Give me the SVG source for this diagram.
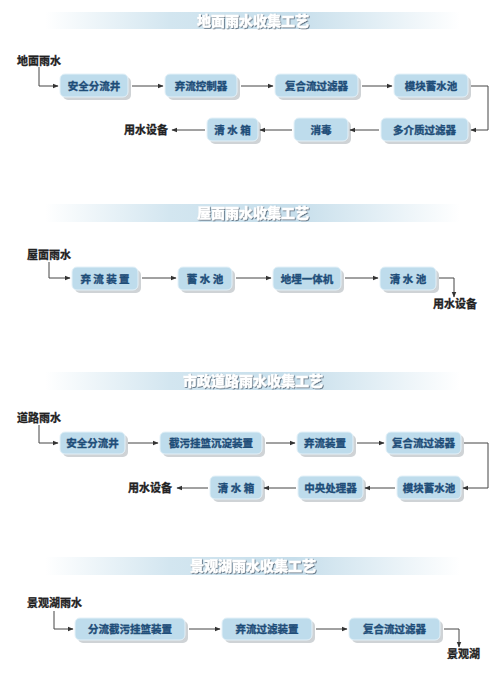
<svg xmlns="http://www.w3.org/2000/svg" width="500" height="675" viewBox="0 0 500 675">
<defs>
<linearGradient id="band" x1="0" y1="0" x2="1" y2="0">
<stop offset="0" stop-color="#ffffff"/>
<stop offset="0.3" stop-color="#d3e6f0"/>
<stop offset="0.6" stop-color="#c6deeb"/>
<stop offset="1" stop-color="#ffffff"/>
</linearGradient>
<filter id="ts" x="-10%" y="-30%" width="120%" height="160%">
<feDropShadow dx="0.8" dy="0.8" stdDeviation="0.5" flood-color="#3f4f60" flood-opacity="0.85"/>
</filter>
<marker id="ah" viewBox="0 0 10 10" refX="9" refY="5" markerWidth="6" markerHeight="6" orient="auto" markerUnits="userSpaceOnUse">
<path d="M0,1 L10,5 L0,9 Z" fill="#333"/>
</marker>
</defs>
<style>
.band{fill:url(#band)}
.title{font-family:"Noto Sans CJK SC","Liberation Sans",sans-serif;font-weight:900;font-size:14px;fill:#ffffff;stroke:#ffffff;stroke-width:0.3;text-anchor:middle;filter:url(#ts)}
.lbl{font-family:"Noto Sans CJK SC","Liberation Sans",sans-serif;font-weight:bold;font-size:11px;fill:#222;stroke:#222;stroke-width:0.3}
.sh{fill:#cfd3d6}
.box{fill:#bedcec;stroke:#e4f1f8;stroke-width:1}
.bt{font-family:"Noto Sans CJK SC","Liberation Sans",sans-serif;font-weight:bold;font-size:10.5px;fill:#1e4d78;stroke:#1e4d78;stroke-width:0.35;text-anchor:middle}
.ln{fill:none;stroke:#444;stroke-width:1}
</style>
<rect width="500" height="675" fill="#ffffff"/>

<!-- Section 1 -->
<g id="title1"><rect class="band" x="45" y="12" width="415" height="17"/><text class="title" x="253" y="26">地面雨水收集工艺</text></g>
<g id="src1"><text class="lbl" x="17" y="65">地面雨水</text></g>
<g id="n1a"><rect class="sh" x="63" y="77" width="68" height="23" rx="5"/><rect class="box" x="60" y="74" width="68" height="23" rx="5"/><text class="bt" x="94" y="89.5">安全分流井</text></g>
<g id="n1b"><rect class="sh" x="168" y="77" width="72" height="23" rx="5"/><rect class="box" x="165" y="74" width="72" height="23" rx="5"/><text class="bt" x="201" y="89.5">弃流控制器</text></g>
<g id="n1c"><rect class="sh" x="278" y="77" width="83" height="23" rx="5"/><rect class="box" x="275" y="74" width="83" height="23" rx="5"/><text class="bt" x="316.5" y="89.5">复合流过滤器</text></g>
<g id="n1d"><rect class="sh" x="397" y="77" width="74" height="23" rx="5"/><rect class="box" x="394" y="74" width="74" height="23" rx="5"/><text class="bt" x="431" y="89.5">模块蓄水池</text></g>
<g id="n1e"><rect class="sh" x="384" y="121" width="87" height="23" rx="5"/><rect class="box" x="381" y="118" width="87" height="23" rx="5"/><text class="bt" x="424.5" y="133.5">多介质过滤器</text></g>
<g id="n1f"><rect class="sh" x="297" y="121" width="54" height="23" rx="5"/><rect class="box" x="294" y="118" width="54" height="23" rx="5"/><text class="bt" x="321" y="133.5">消毒</text></g>
<g id="n1g"><rect class="sh" x="210" y="121" width="51" height="23" rx="5"/><rect class="box" x="207" y="118" width="51" height="23" rx="5"/><text class="bt" x="232.5" y="133.5">清 水 箱</text></g>
<g id="dst1"><text class="lbl" x="124" y="134">用水设备</text></g>

<!-- Section 2 -->
<g id="title2"><rect class="band" x="45" y="204" width="415" height="18"/><text class="title" x="253" y="218">屋面雨水收集工艺</text></g>
<g id="src2"><text class="lbl" x="27" y="259">屋面雨水</text></g>
<g id="n2a"><rect class="sh" x="75" y="270" width="66" height="23" rx="5"/><rect class="box" x="72" y="267" width="66" height="23" rx="5"/><text class="bt" x="105" y="282.5">弃 流 装 置</text></g>
<g id="n2b"><rect class="sh" x="181" y="270" width="54" height="23" rx="5"/><rect class="box" x="178" y="267" width="54" height="23" rx="5"/><text class="bt" x="205" y="282.5">蓄 水 池</text></g>
<g id="n2c"><rect class="sh" x="276" y="270" width="68" height="23" rx="5"/><rect class="box" x="273" y="267" width="68" height="23" rx="5"/><text class="bt" x="307" y="282.5">地埋一体机</text></g>
<g id="n2d"><rect class="sh" x="383" y="270" width="56" height="23" rx="5"/><rect class="box" x="380" y="267" width="56" height="23" rx="5"/><text class="bt" x="408" y="282.5">清 水 池</text></g>
<g id="dst2"><text class="lbl" x="433" y="308">用水设备</text></g>

<!-- Section 3 -->
<g id="title3"><rect class="band" x="45" y="372" width="415" height="18"/><text class="title" x="253" y="386">市政道路雨水收集工艺</text></g>
<g id="src3"><text class="lbl" x="17" y="422">道路雨水</text></g>
<g id="n3a"><rect class="sh" x="63" y="435" width="65" height="22" rx="5"/><rect class="box" x="60" y="432" width="65" height="22" rx="5"/><text class="bt" x="92.5" y="447">安全分流井</text></g>
<g id="n3b"><rect class="sh" x="163" y="435" width="102" height="22" rx="5"/><rect class="box" x="160" y="432" width="102" height="22" rx="5"/><text class="bt" x="211" y="447">截污挂篮沉淀装置</text></g>
<g id="n3c"><rect class="sh" x="300" y="435" width="56" height="22" rx="5"/><rect class="box" x="297" y="432" width="56" height="22" rx="5"/><text class="bt" x="325" y="447">弃流装置</text></g>
<g id="n3d"><rect class="sh" x="389" y="435" width="75" height="22" rx="5"/><rect class="box" x="386" y="432" width="75" height="22" rx="5"/><text class="bt" x="423.5" y="447">复合流过滤器</text></g>
<g id="n3e"><rect class="sh" x="400" y="479" width="64" height="23" rx="5"/><rect class="box" x="397" y="476" width="64" height="23" rx="5"/><text class="bt" x="429" y="491.5">模块蓄水池</text></g>
<g id="n3f"><rect class="sh" x="301" y="479" width="65" height="23" rx="5"/><rect class="box" x="298" y="476" width="65" height="23" rx="5"/><text class="bt" x="330.5" y="491.5">中央处理器</text></g>
<g id="n3g"><rect class="sh" x="213" y="479" width="52" height="23" rx="5"/><rect class="box" x="210" y="476" width="52" height="23" rx="5"/><text class="bt" x="236" y="491.5">清 水 箱</text></g>
<g id="dst3"><text class="lbl" x="128" y="492">用水设备</text></g>

<!-- Section 4 -->
<g id="title4"><rect class="band" x="45" y="557" width="415" height="18"/><text class="title" x="253" y="571">景观湖雨水收集工艺</text></g>
<g id="src4"><text class="lbl" x="27" y="607">景观湖雨水</text></g>
<g id="n4a"><rect class="sh" x="78" y="621" width="110" height="22" rx="5"/><rect class="box" x="75" y="618" width="110" height="22" rx="5"/><text class="bt" x="130" y="633">分流截污挂篮装置</text></g>
<g id="n4b"><rect class="sh" x="225" y="621" width="90" height="22" rx="5"/><rect class="box" x="222" y="618" width="90" height="22" rx="5"/><text class="bt" x="267" y="633">弃流过滤装置</text></g>
<g id="n4c"><rect class="sh" x="352" y="621" width="91" height="22" rx="5"/><rect class="box" x="349" y="618" width="91" height="22" rx="5"/><text class="bt" x="394.5" y="633">复合流过滤器</text></g>
<g id="dst4"><text class="lbl" x="447" y="658">景观湖</text></g>

<g id="connectors">
<!-- section 1 -->
<path class="ln" d="M39,67 V86 H58" marker-end="url(#ah)"/>
<path class="ln" d="M132,86 H163" marker-end="url(#ah)"/>
<path class="ln" d="M241,86 H273" marker-end="url(#ah)"/>
<path class="ln" d="M362,86 H392" marker-end="url(#ah)"/>
<path class="ln" d="M471,86 H488 V130 H471" marker-end="url(#ah)"/>
<path class="ln" d="M379,130 H350" marker-end="url(#ah)"/>
<path class="ln" d="M292,130 H260" marker-end="url(#ah)"/>
<path class="ln" d="M205,130 H172" marker-end="url(#ah)"/>
<!-- section 2 -->
<path class="ln" d="M49,262 V278 H70" marker-end="url(#ah)"/>
<path class="ln" d="M142,278 H176" marker-end="url(#ah)"/>
<path class="ln" d="M236,278 H271" marker-end="url(#ah)"/>
<path class="ln" d="M345,278 H378" marker-end="url(#ah)"/>
<path class="ln" d="M439,278 H454 V297" marker-end="url(#ah)"/>
<!-- section 3 -->
<path class="ln" d="M39,425 V443 H58" marker-end="url(#ah)"/>
<path class="ln" d="M128,443 H158" marker-end="url(#ah)"/>
<path class="ln" d="M266,443 H295" marker-end="url(#ah)"/>
<path class="ln" d="M357,443 H384" marker-end="url(#ah)"/>
<path class="ln" d="M464,443 H488 V488 H463" marker-end="url(#ah)"/>
<path class="ln" d="M395,488 H365" marker-end="url(#ah)"/>
<path class="ln" d="M296,488 H264" marker-end="url(#ah)"/>
<path class="ln" d="M208,488 H177" marker-end="url(#ah)"/>
<!-- section 4 -->
<path class="ln" d="M54,611 V629 H73" marker-end="url(#ah)"/>
<path class="ln" d="M189,629 H220" marker-end="url(#ah)"/>
<path class="ln" d="M316,629 H347" marker-end="url(#ah)"/>
<path class="ln" d="M444,629 H459 V647" marker-end="url(#ah)"/>
</g>
</svg>
